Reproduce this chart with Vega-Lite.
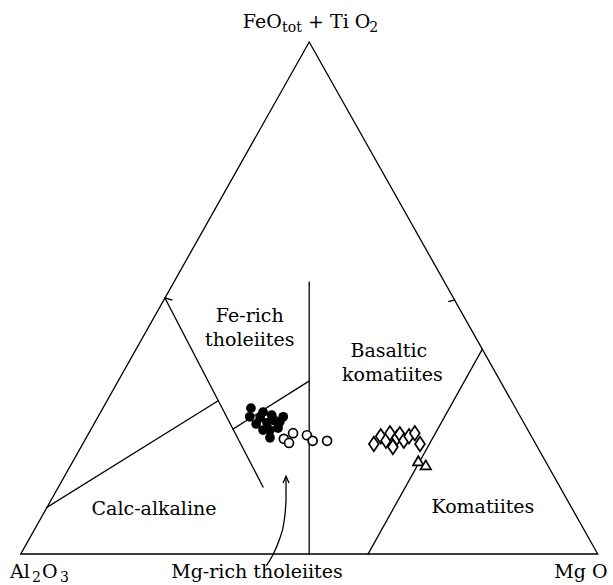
{
  "$schema": "https://vega.github.io/schema/vega-lite/v6.json",
  "width": 613,
  "height": 585,
  "padding": 0,
  "autosize": {"type": "none"},
  "background": "white",
  "config": {"view": {"stroke": null}},
  "datasets": {
    "segments": [
      {"seg": "outline", "ord": 0, "x": 0, "y": 0},
      {"seg": "outline", "ord": 1, "x": 50, "y": 100},
      {"seg": "outline", "ord": 2, "x": 100, "y": 0},
      {"seg": "outline", "ord": 3, "x": 0, "y": 0},
      {"seg": "tholeiite-basaltic", "ord": 0, "x": 50, "y": 53.1},
      {"seg": "tholeiite-basaltic", "ord": 1, "x": 50, "y": 0},
      {"seg": "tholeiite-calcalkaline", "ord": 0, "x": 25, "y": 50},
      {"seg": "tholeiite-calcalkaline", "ord": 1, "x": 42.0, "y": 13.1},
      {"seg": "calcalkaline-upper", "ord": 0, "x": 4.55, "y": 9.1},
      {"seg": "calcalkaline-upper", "ord": 1, "x": 34.2, "y": 29.9},
      {"seg": "fe-mg-tholeiite", "ord": 0, "x": 36.8, "y": 24.4},
      {"seg": "fe-mg-tholeiite", "ord": 1, "x": 50, "y": 33.8},
      {"seg": "komatiite", "ord": 0, "x": 80, "y": 40},
      {"seg": "komatiite", "ord": 1, "x": 60.2, "y": 0},
      {"seg": "tick-left", "ord": 0, "x": 25, "y": 50},
      {"seg": "tick-left", "ord": 1, "x": 26.2, "y": 49.6},
      {"seg": "tick-right", "ord": 0, "x": 75.2, "y": 49.6},
      {"seg": "tick-right", "ord": 1, "x": 74.2, "y": 49.3}
    ],
    "arrow": [
      {"ord": 0, "x": 42.55, "y": -2.34},
      {"ord": 1, "x": 43.6, "y": -0.39},
      {"ord": 2, "x": 44.8, "y": 2.73},
      {"ord": 3, "x": 45.63, "y": 6.25},
      {"ord": 4, "x": 45.98, "y": 10.55},
      {"ord": 5, "x": 45.98, "y": 15.04}
    ],
    "arrowhead": [{"x": 45.98, "y": 15.2}],
    "samples": [
      {"group": "filled", "x": 39.9, "y": 28.5},
      {"group": "filled", "x": 39.7, "y": 26.8},
      {"group": "filled", "x": 42.0, "y": 27.7},
      {"group": "filled", "x": 43.5, "y": 27.1},
      {"group": "filled", "x": 45.5, "y": 26.8},
      {"group": "filled", "x": 44.9, "y": 25.8},
      {"group": "filled", "x": 42.7, "y": 25.6},
      {"group": "filled", "x": 41.5, "y": 26.6},
      {"group": "filled", "x": 43.2, "y": 24.2},
      {"group": "filled", "x": 42.0, "y": 24.2},
      {"group": "filled", "x": 43.2, "y": 22.7},
      {"group": "filled", "x": 44.6, "y": 24.6},
      {"group": "filled", "x": 40.8, "y": 25.4},
      {"group": "filled", "x": 44.1, "y": 26.0},
      {"group": "open", "x": 47.2, "y": 23.6},
      {"group": "open", "x": 45.6, "y": 22.5},
      {"group": "open", "x": 46.5, "y": 21.7},
      {"group": "open", "x": 49.6, "y": 23.2},
      {"group": "open", "x": 50.6, "y": 22.1},
      {"group": "open", "x": 53.1, "y": 22.1},
      {"group": "diamond", "x": 61.2, "y": 21.5},
      {"group": "diamond", "x": 62.4, "y": 23.0},
      {"group": "diamond", "x": 63.3, "y": 22.1},
      {"group": "diamond", "x": 64.0, "y": 23.6},
      {"group": "diamond", "x": 64.5, "y": 20.9},
      {"group": "diamond", "x": 65.2, "y": 22.7},
      {"group": "diamond", "x": 65.7, "y": 23.4},
      {"group": "diamond", "x": 66.4, "y": 22.1},
      {"group": "diamond", "x": 67.3, "y": 23.0},
      {"group": "diamond", "x": 68.3, "y": 23.6},
      {"group": "diamond", "x": 69.2, "y": 21.5},
      {"group": "triangle", "x": 68.9, "y": 18.2},
      {"group": "triangle", "x": 70.2, "y": 17.4}
    ],
    "labels": [
      {"kind": "field", "text": "Fe-rich", "x": 39.7, "y": 45.3},
      {"kind": "field", "text": "tholeiites", "x": 39.7, "y": 40.6},
      {"kind": "field", "text": "Basaltic", "x": 63.8, "y": 38.5},
      {"kind": "field", "text": "komatiites", "x": 64.4, "y": 33.8},
      {"kind": "field", "text": "Calc-alkaline", "x": 23.1, "y": 7.6},
      {"kind": "field", "text": "Komatiites", "x": 80.1, "y": 8.0},
      {"kind": "field", "text": "Mg-rich  tholeiites", "x": 40.95, "y": -4.69},
      {"kind": "main", "text": "FeO", "x": 38.5, "y": 102.7},
      {"kind": "sub", "text": "tot", "x": 45.3, "y": 101.95},
      {"kind": "main", "text": "+ Ti O", "x": 49.8, "y": 102.7},
      {"kind": "sub", "text": "2", "x": 60.4, "y": 101.95},
      {"kind": "main", "text": "Al", "x": -1.85, "y": -4.69},
      {"kind": "sub", "text": "2", "x": 1.96, "y": -5.47},
      {"kind": "main", "text": "O", "x": 3.69, "y": -4.69},
      {"kind": "sub", "text": "3", "x": 6.81, "y": -5.47},
      {"kind": "right", "text": "Mg O", "x": 101.7, "y": -4.69}
    ]
  },
  "encoding": {
    "x": {"field": "x", "type": "quantitative", "axis": null, "scale": {"domain": [-3.588, 102.65], "nice": false, "zero": false}},
    "y": {"field": "y", "type": "quantitative", "axis": null, "scale": {"domain": [-6.055, 108.2], "nice": false, "zero": false}}
  },
  "layer": [
    {
      "data": {"name": "segments"},
      "mark": {"type": "line", "color": "black", "strokeWidth": 1.3, "strokeCap": "square"},
      "encoding": {"detail": {"field": "seg"}, "order": {"field": "ord", "type": "quantitative"}}
    },
    {
      "data": {"name": "arrow"},
      "mark": {"type": "line", "color": "black", "strokeWidth": 1.3, "interpolate": "monotone"},
      "encoding": {"order": {"field": "ord", "type": "quantitative"}}
    },
    {
      "data": {"name": "arrowhead"},
      "mark": {"type": "point", "shape": "M-1,2.3L0,0L1,2.3", "size": 36, "filled": false, "color": "black", "strokeWidth": 1.3, "opacity": 1}
    },
    {
      "data": {"name": "samples"},
      "transform": [{"filter": "datum.group === 'filled'"}],
      "mark": {"type": "point", "shape": "circle", "size": 95, "filled": true, "color": "black", "opacity": 1}
    },
    {
      "data": {"name": "samples"},
      "transform": [{"filter": "datum.group === 'open'"}],
      "mark": {"type": "point", "shape": "circle", "size": 80, "filled": false, "color": "black", "strokeWidth": 1.7, "fill": "white", "fillOpacity": 1, "opacity": 1}
    },
    {
      "data": {"name": "samples"},
      "transform": [{"filter": "datum.group === 'diamond'"}],
      "mark": {"type": "point", "shape": "M0,-1L0.68,0L0,1L-0.68,0Z", "size": 210, "filled": false, "color": "black", "strokeWidth": 1.7, "fill": "white", "fillOpacity": 1, "opacity": 1}
    },
    {
      "data": {"name": "samples"},
      "transform": [{"filter": "datum.group === 'triangle'"}],
      "mark": {"type": "point", "shape": "triangle-up", "size": 110, "filled": false, "color": "black", "strokeWidth": 1.7, "fill": "white", "fillOpacity": 1, "opacity": 1}
    },
    {
      "data": {"name": "labels"},
      "transform": [{"filter": "datum.kind === 'field'"}],
      "mark": {"type": "text", "font": "DejaVu Serif", "fontSize": 19, "align": "center", "baseline": "alphabetic", "color": "black"},
      "encoding": {"text": {"field": "text"}}
    },
    {
      "data": {"name": "labels"},
      "transform": [{"filter": "datum.kind === 'main'"}],
      "mark": {"type": "text", "font": "DejaVu Serif", "fontSize": 19, "align": "left", "baseline": "alphabetic", "color": "black"},
      "encoding": {"text": {"field": "text"}}
    },
    {
      "data": {"name": "labels"},
      "transform": [{"filter": "datum.kind === 'right'"}],
      "mark": {"type": "text", "font": "DejaVu Serif", "fontSize": 19, "align": "right", "baseline": "alphabetic", "color": "black"},
      "encoding": {"text": {"field": "text"}}
    },
    {
      "data": {"name": "labels"},
      "transform": [{"filter": "datum.kind === 'sub'"}],
      "mark": {"type": "text", "font": "DejaVu Serif", "fontSize": 14, "align": "left", "baseline": "alphabetic", "color": "black"},
      "encoding": {"text": {"field": "text"}}
    }
  ]
}
